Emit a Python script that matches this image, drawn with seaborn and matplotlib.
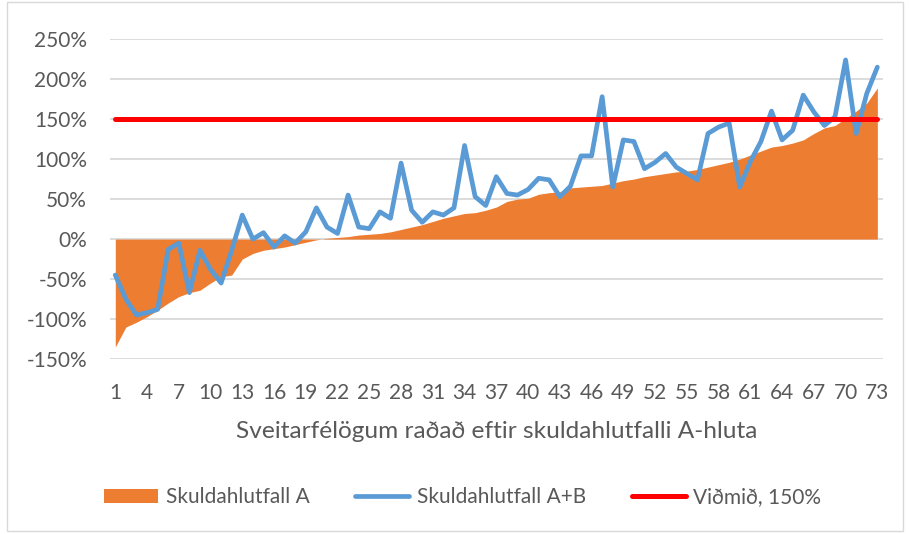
import matplotlib
matplotlib.use("Agg")
import matplotlib.pyplot as plt
import seaborn as sns
import pandas as pd
import numpy as np
from matplotlib.patches import Patch, Rectangle
from matplotlib.lines import Line2D

# ---- data ----
municipality_rank = list(range(1, 74))
skuldahlutfall_a = [
    -135, -110, -104, -97, -89, -80, -72, -67, -64, -55,
    -47, -45, -25, -18, -14, -12, -10, -7, -4, -1,
    1, 2, 3, 5, 6, 7, 9, 12, 15, 18,
    22, 26, 29, 32, 33, 36, 40, 47, 50, 51,
    56, 58, 59, 64, 65, 66, 67, 70, 73, 75,
    78, 80, 82, 84, 85, 87, 90, 93, 96, 100,
    105, 110, 115, 117, 120, 124, 132, 139, 142, 151,
    160, 170, 189,
]
skuldahlutfall_ab = [
    -45, -75, -95, -92, -88, -13, -5, -67, -14, -38,
    -55, -14, 30, 0, 8, -10, 4, -5, 9, 39,
    15, 7, 55, 15, 13, 34, 26, 95, 36, 21,
    34, 30, 39, 117, 53, 42, 78, 57, 55, 62,
    76, 74, 53, 66, 104, 104, 178, 65, 124, 122,
    88, 96, 107, 90, 82, 74, 132, 140, 145, 65,
    97, 122, 160, 124, 136, 180, 159, 142, 153, 224,
    132, 182, 215,
]
vidmid = [150] * 73
y_ticks = [-150, -100, -50, 0, 50, 100, 150, 200, 250]
x_tick_values = list(range(1, 74, 3))
x_label = "Sveitarfélögum raðað eftir skuldahlutfalli A-hluta"
legend_labels = ["Skuldahlutfall A", "Skuldahlutfall A+B", "Viðmið, 150%"]

df = pd.DataFrame({
    "rank": municipality_rank,
    "A": skuldahlutfall_a,
    "AB": skuldahlutfall_ab,
    "ref": vidmid,
})

ORANGE = "#ED7D31"
BLUE = "#5B9BD5"
RED = "#FF0000"
GRID = "#D9D9D9"
TEXT = "#595959"

sns.set_theme(style="white")
plt.rcParams["font.family"] = ["Lato", "DejaVu Sans"]

fig = plt.figure(figsize=(9.09, 5.34), dpi=100)
ax = fig.add_axes([0.121, 0.3277, 0.850, 0.599])

ax.fill_between(df["rank"], df["A"], 0, color=ORANGE, linewidth=0, zorder=2)
sns.lineplot(data=df, x="rank", y="AB", ax=ax, color=BLUE, linewidth=3.4,
             zorder=3, legend=False)
sns.lineplot(data=df, x="rank", y="ref", ax=ax, color=RED, linewidth=3.6,
             zorder=4, legend=False)

ax.set_xlim(0.5, 73.5)
ax.set_ylim(-150, 250)
ax.set_yticks(y_ticks)
ax.set_yticklabels([f"{v}%" for v in y_ticks])
ax.set_xticks(x_tick_values)
ax.set_xticklabels([str(v) for v in x_tick_values])
ax.grid(axis="y", color=GRID, linewidth=1.3, zorder=0)
ax.grid(axis="x", visible=False)
for s in ax.spines.values():
    s.set_visible(False)
ax.tick_params(axis="both", length=0, labelsize=15, colors=TEXT)
ax.tick_params(axis="y", pad=16.5)
ax.tick_params(axis="x", pad=17)
ax.set_xlabel(x_label, fontsize=17.6, color=TEXT, va="center")
ax.xaxis.set_label_coords(0.5, -0.228)
ax.set_ylabel("")

handles = [
    Patch(facecolor=ORANGE, edgecolor="none"),
    Line2D([0], [0], color=BLUE, linewidth=3.4),
    Line2D([0], [0], color=RED, linewidth=3.6),
]
leg = fig.legend(handles, legend_labels, loc="center", bbox_to_anchor=(0.509, 0.069),
                 ncol=3, frameon=False, fontsize=15, handlelength=2.6,
                 handletextpad=0.35, columnspacing=2.2)
for t in leg.get_texts():
    t.set_color(TEXT)

fig.patches.append(Rectangle((0.008, 0.006), 0.985, 0.99, transform=fig.transFigure,
                             fill=False, edgecolor="#D9D9D9", linewidth=1.0))

fig.savefig("out.png", dpi=100)
